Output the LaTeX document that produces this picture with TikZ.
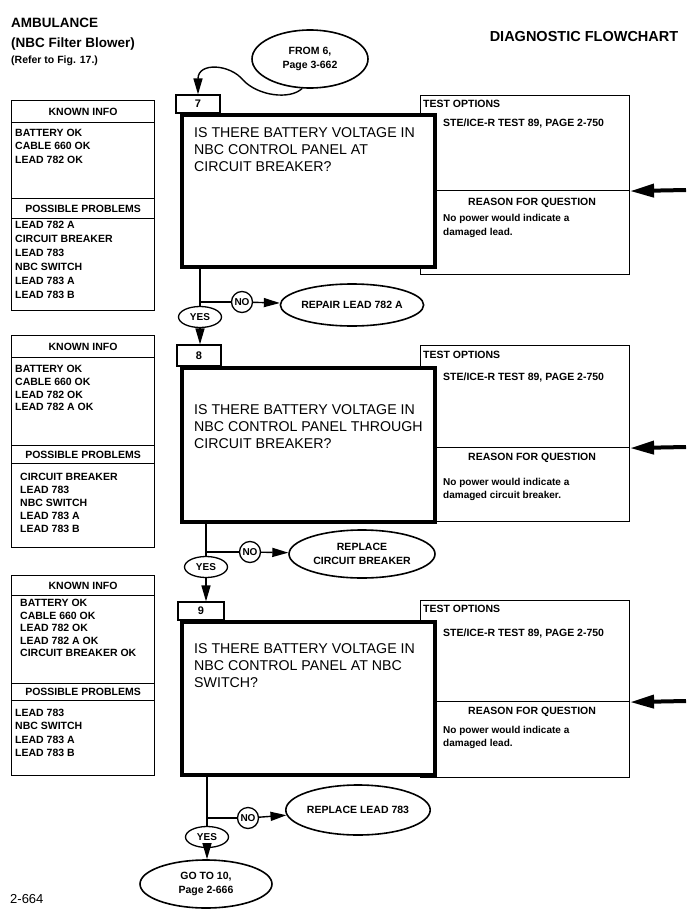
\documentclass[tikz,border=0pt]{standalone}
\usepackage{fontspec}
\setmainfont{Liberation Sans}
\usetikzlibrary{positioning, arrows.meta, shapes.geometric}

\tikzset{
  stepbox/.style={draw,line width=1.2pt,minimum width=44,minimum height=18,inner sep=0pt,
    font=\bfseries\fontsize{11}{12}\selectfont},
  qbox/.style={draw,fill=white,line width=3.6pt,anchor=north west,minimum width=253,inner sep=0pt},
  sidebox/.style={draw,line width=1.1pt,anchor=north west,minimum width=143,inner sep=0pt},
  testbox/.style={draw,line width=1.1pt,anchor=north west,minimum width=209,inner sep=0pt},
  headtxt/.style={font=\bfseries\fontsize{10.5}{12}\selectfont},
  listtxt/.style={anchor=north west,inner sep=0pt,align=left,font=\bfseries\fontsize{10.5}{13.3}\selectfont},
  qtxt/.style={anchor=north west,inner sep=0pt,align=left,font=\fontsize{14.2}{17}\selectfont},
  oval/.style={draw,ellipse,line width=1.6pt,inner sep=0pt,align=center,
    font=\bfseries\fontsize{10.5}{14}\selectfont},
  nocirc/.style={draw,circle,line width=1.3pt,minimum size=21,inner sep=0pt,
    font=\bfseries\fontsize{10}{10}\selectfont},
  yesoval/.style={draw,ellipse,line width=1.3pt,minimum width=43,minimum height=21,inner sep=0pt,
    font=\bfseries\fontsize{10}{10}\selectfont},
  link/.style={line width=1.4pt},
  flow/.style={line width=1.4pt,-{Triangle[length=16pt,width=9pt]}},
  feed/.style={line width=4pt,-{Triangle[length=24pt,width=13pt]}},
}

\begin{document}
\begin{tikzpicture}[x=1pt,y=-1pt]
  \useasboundingbox (0,0) rectangle (697,920);
  % heading
  \node[anchor=base west,inner sep=0,font=\bfseries\fontsize{13.5}{16}\selectfont] (ttl1) at (11,28) {AMBULANCE};
  \node[anchor=base west,inner sep=0,font=\bfseries\fontsize{13.5}{16}\selectfont] (ttl2) at (11,48) {(NBC Filter Blower)};
  \node[anchor=base west,inner sep=0,font=\bfseries\fontsize{10.5}{12}\selectfont] (ttl3) at (11,64) {(Refer to Fig. 17.)};
  \node[anchor=base,inner sep=0,font=\bfseries\fontsize{14.5}{16}\selectfont] (dfc) at (584,42) {DIAGNOSTIC FLOWCHART};
  \node[oval,minimum width=116,minimum height=58] (from6) at (310,59) {FROM 6,\\Page 3-662};

  % step 7
  \node[sidebox,minimum height=22,headtxt] (kh7) at (11,100) {KNOWN INFO};
  \node[sidebox,minimum height=76] (kl7) at (11,122) {};
  \node[sidebox,minimum height=20,headtxt] (ph7) at (11,198) {POSSIBLE PROBLEMS};
  \node[sidebox,minimum height=92] (pl7) at (11,218) {};
  \node[listtxt] at ([xshift=4pt,yshift=-7pt]kl7.north west) {BATTERY OK\\CABLE 660 OK\\LEAD 782 OK};
  \node[listtxt,font=\bfseries\fontsize{10.5}{14}\selectfont] at ([xshift=4pt,yshift=-3pt]pl7.north west)
       {LEAD 782 A\\CIRCUIT BREAKER\\LEAD 783\\NBC SWITCH\\LEAD 783 A\\LEAD 783 B};
  \node[testbox,minimum height=95] (t7) at (420,95) {};
  \node[testbox,minimum height=84] (r7) at (420,190) {};
  \node[headtxt,anchor=north west,inner sep=0] at ([xshift=3pt,yshift=-5pt]t7.north west) {TEST OPTIONS};
  \node[listtxt] at ([xshift=23pt,yshift=-24pt]t7.north west) {STE/ICE-R TEST 89, PAGE 2-750};
  \node[headtxt] at ([xshift=7pt,yshift=-13pt]r7.north) {REASON FOR QUESTION};
  \node[listtxt,font=\bfseries\fontsize{10}{14}\selectfont] at ([xshift=23pt,yshift=-24pt]r7.north west)
       {No power would indicate a\\damaged lead.};
  \node[qbox,minimum height=152] (q7) at (180,113) {};
  \node[qtxt] at ([xshift=14pt,yshift=-14pt]q7.north west)
       {IS THERE BATTERY VOLTAGE IN\\NBC CONTROL PANEL AT\\CIRCUIT BREAKER?};
  \node[stepbox] (s7) at (198,104) {7};
  \coordinate (fd7) at (686,190);
  \coordinate (j7) at (200,302);
  \node[nocirc] (n7) at (242,302) {NO};
  \node[oval,minimum width=139,minimum height=42] (fix7) at (352,305) {REPAIR LEAD 782 A};
  \node[yesoval] (y7) at (200,317) {YES};

  % step 8
  \node[sidebox,minimum height=22,headtxt] (kh8) at (11,335) {KNOWN INFO};
  \node[sidebox,minimum height=88] (kl8) at (11,357) {};
  \node[sidebox,minimum height=18,headtxt] (ph8) at (11,445) {POSSIBLE PROBLEMS};
  \node[sidebox,minimum height=84] (pl8) at (11,463) {};
  \node[listtxt,font=\bfseries\fontsize{10.5}{12.8}\selectfont] at ([xshift=4pt,yshift=-8pt]kl8.north west)
       {BATTERY OK\\CABLE 660 OK\\LEAD 782 OK\\LEAD 782 A OK};
  \node[listtxt,font=\bfseries\fontsize{10.5}{13}\selectfont] at ([xshift=9pt,yshift=-10pt]pl8.north west)
       {CIRCUIT BREAKER\\LEAD 783\\NBC SWITCH\\LEAD 783 A\\LEAD 783 B};
  \node[testbox,minimum height=102] (t8) at (420,345) {};
  \node[testbox,minimum height=74] (r8) at (420,447) {};
  \node[headtxt,anchor=north west,inner sep=0] at ([xshift=3pt,yshift=-6pt]t8.north west) {TEST OPTIONS};
  \node[listtxt] at ([xshift=23pt,yshift=-28pt]t8.north west) {STE/ICE-R TEST 89, PAGE 2-750};
  \node[headtxt] at ([xshift=7pt,yshift=-11pt]r8.north) {REASON FOR QUESTION};
  \node[listtxt,font=\bfseries\fontsize{10}{13}\selectfont] at ([xshift=23pt,yshift=-31pt]r8.north west)
       {No power would indicate a\\damaged circuit breaker.};
  \node[qbox,minimum height=154] (q8) at (180,366) {};
  \node[qtxt] at ([xshift=14pt,yshift=-38pt]q8.north west)
       {IS THERE BATTERY VOLTAGE IN\\NBC CONTROL PANEL THROUGH\\CIRCUIT BREAKER?};
  \node[stepbox,minimum height=21] (s8) at (199,355.5) {8};
  \coordinate (fd8) at (686,447);
  \coordinate (j8) at (206,552);
  \node[nocirc] (n8) at (250,552) {NO};
  \node[oval,minimum width=146,minimum height=48] (fix8) at (362,554) {REPLACE\\CIRCUIT BREAKER};
  \node[yesoval] (y8) at (206,567) {YES};

  % step 9
  \node[sidebox,minimum height=20,headtxt] (kh9) at (11,575) {KNOWN INFO};
  \node[sidebox,minimum height=88] (kl9) at (11,595) {};
  \node[sidebox,minimum height=17,headtxt] (ph9) at (11,683) {POSSIBLE PROBLEMS};
  \node[sidebox,minimum height=75] (pl9) at (11,700) {};
  \node[listtxt,font=\bfseries\fontsize{10.5}{12.5}\selectfont] at ([xshift=9pt,yshift=-4pt]kl9.north west)
       {BATTERY OK\\CABLE 660 OK\\LEAD 782 OK\\LEAD 782 A OK\\CIRCUIT BREAKER OK};
  \node[listtxt] at ([xshift=4pt,yshift=-9pt]pl9.north west)
       {LEAD 783\\NBC SWITCH\\LEAD 783 A\\LEAD 783 B};
  \node[testbox,minimum height=101] (t9) at (420,600) {};
  \node[testbox,minimum height=76] (r9) at (420,701) {};
  \node[headtxt,anchor=north west,inner sep=0] at ([xshift=3pt,yshift=-5pt]t9.north west) {TEST OPTIONS};
  \node[listtxt] at ([xshift=23pt,yshift=-29pt]t9.north west) {STE/ICE-R TEST 89, PAGE 2-750};
  \node[headtxt] at ([xshift=7pt,yshift=-11pt]r9.north) {REASON FOR QUESTION};
  \node[listtxt,font=\bfseries\fontsize{10}{13}\selectfont] at ([xshift=23pt,yshift=-25pt]r9.north west)
       {No power would indicate a\\damaged lead.};
  \node[qbox,minimum height=153] (q9) at (180,620) {};
  \node[qtxt] at ([xshift=14pt,yshift=-23pt]q9.north west)
       {IS THERE BATTERY VOLTAGE IN\\NBC CONTROL PANEL AT NBC\\SWITCH?};
  \node[stepbox,minimum width=46] (s9) at (201,611) {9};
  \coordinate (fd9) at (686,701);
  \coordinate (j9) at (207,818);
  \node[nocirc] (n9) at (248,818) {NO};
  \node[oval,minimum width=138,minimum height=50] (fix9) at (358,810) {REPLACE LEAD 783};
  \node[yesoval] (y9) at (207,837) {YES};
  \node[oval,minimum width=132,minimum height=48] (go10) at (206,884) {GO TO 10,\\Page 2-666};
  \node[anchor=base west,inner sep=0,font=\fontsize{13}{15}\selectfont] (pg) at (10,903) {2-664};

  % links
  \coordinate (bend) at (243,80);
  \draw[flow] (from6.255) .. controls (290,100) and (258,96) .. (bend)
       .. controls (230,64) and (198,62) .. (s7.north);
  \draw[feed] (fd7) -- (t7.south east);
  \draw[feed] (fd8) -- (t8.south east);
  \draw[feed] (fd9) -- (t9.south east);
  \draw[link] (q7.south -| j7) -- (y7.north);
  \draw[link] (j7) -- (n7);
  \draw[flow] (n7) -- (fix7);
  \draw[flow] (y7) -- (y7 |- s8.north);
  \draw[link] (q8.south -| j8) -- (y8.north);
  \draw[link] (j8) -- (n8);
  \draw[flow] (n8) -- (fix8);
  \draw[flow] (y8) -- (y8 |- s9.north);
  \draw[link] (q9.south -| j9) -- (y9.north);
  \draw[link] (j9) -- (n9);
  \draw[flow] (n9) -- (fix9);
  \draw[flow] (y9) -- (y9 |- go10.north);
\end{tikzpicture}
\end{document}
